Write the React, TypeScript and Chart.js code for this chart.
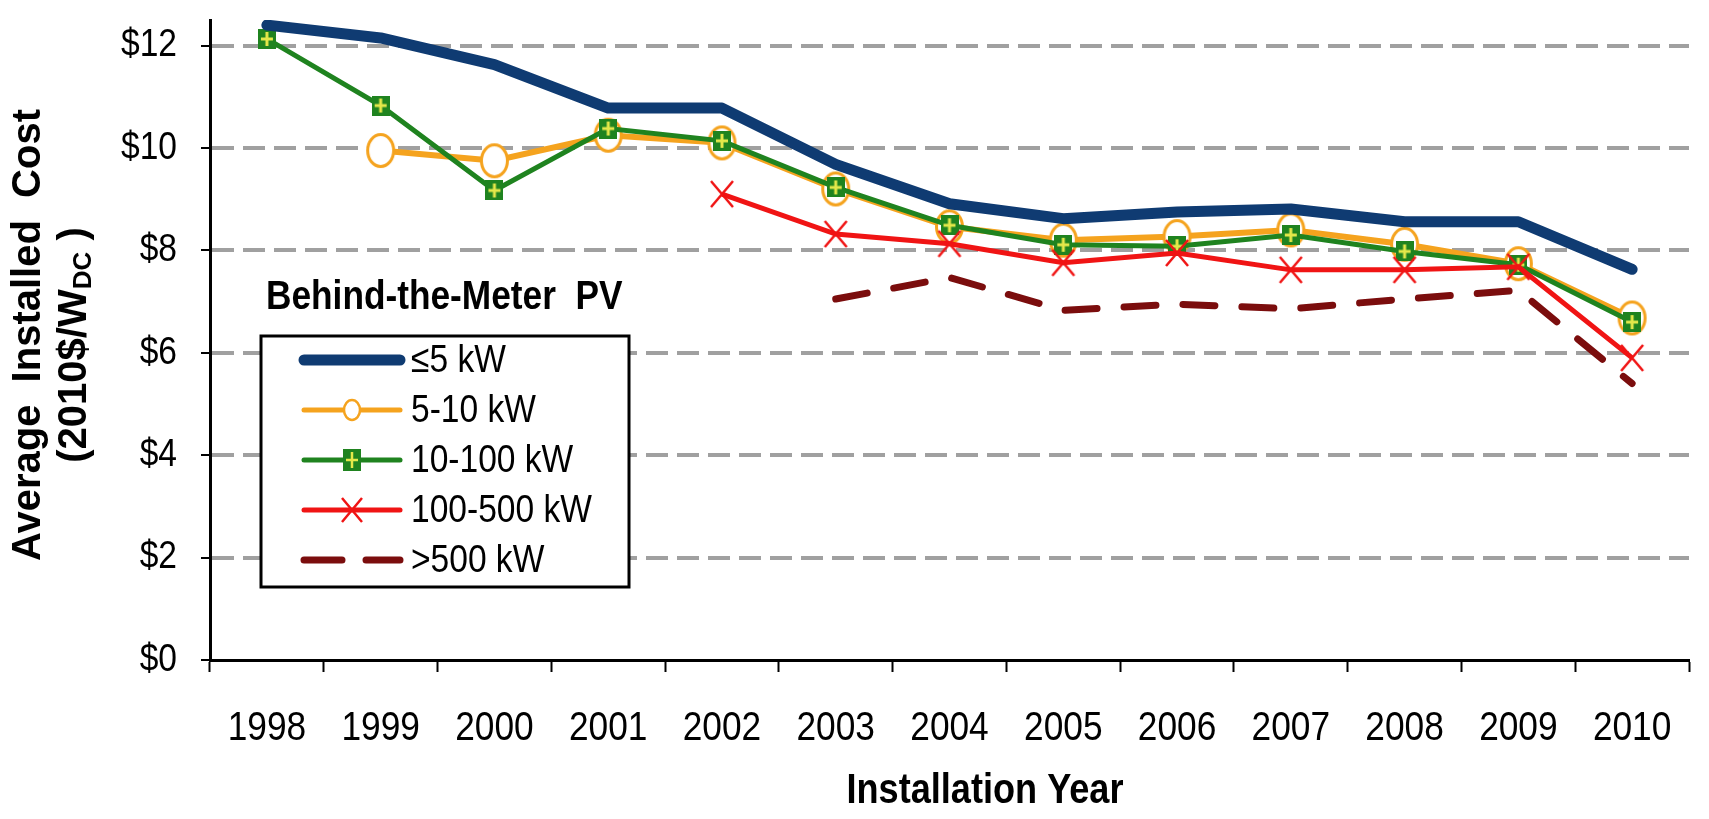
import React, { useEffect, useRef } from "react";
import { Chart, registerables } from "chart.js";

Chart.register(...registerables);

// ---------- data ----------
const years = ["1998", "1999", "2000", "2001", "2002", "2003", "2004", "2005", "2006", "2007", "2008", "2009", "2010"];
const seriesLabels = ["\u22645 kW", "5-10 kW", "10-100 kW", "100-500 kW", ">500 kW"];
const kwUpTo5 = [12.4, 12.15, 11.63, 10.78, 10.78, 9.68, 8.91, 8.62, 8.75, 8.81, 8.56, 8.56, 7.63];
const kw5to10 = [null, 9.95, 9.75, 10.25, 10.1, 9.2, 8.46, 8.2, 8.27, 8.4, 8.12, 7.74, 6.68];
const kw10to100 = [12.13, 10.83, 9.17, 10.38, 10.14, 9.23, 8.49, 8.11, 8.08, 8.3, 7.98, 7.72, 6.6];
const kw100to500 = [null, null, null, null, 9.1, 8.32, 8.13, 7.76, 7.95, 7.62, 7.62, 7.68, 5.9];
const kwOver500 = [null, null, null, null, null, 7.05, 7.47, 6.83, 6.95, 6.86, 7.05, 7.22, 5.4];
const yTickValues = [0, 2, 4, 6, 8, 10, 12];
const legendTitle = "Behind-the-Meter  PV";
const xTitle = "Installation Year";
const yTitleLine1 = "Average  Installed  Cost";
const yTitleLine2a = "(2010$/W";
const yTitleSub = "DC";
const yTitleLine2b = " )";

// ---------- styles ----------
const SANS = '"Liberation Sans", Arial, sans-serif';
const NARROW_SCALE = 0.86;
const C_NAVY = "#0F3B72";
const C_ORANGE = "#F5A31E";
const C_GREEN = "#1F831F";
const C_CROSS = "#E4E84A";
const C_RED = "#F01414";
const C_DARKRED = "#7B0D0D";
const C_GRID = "#A0A0A0";

function makeOrangeMarker(rx: number, ry: number, lw: number) {
  const c = document.createElement("canvas");
  c.width = Math.ceil(rx * 2 + lw + 2);
  c.height = Math.ceil(ry * 2 + lw + 2);
  const g = c.getContext("2d")!;
  g.beginPath();
  g.ellipse(c.width / 2, c.height / 2, rx, ry, 0, 0, Math.PI * 2);
  g.fillStyle = "#FFFFFF";
  g.fill();
  g.lineWidth = lw;
  g.strokeStyle = C_ORANGE;
  g.stroke();
  return c;
}

function makeGreenMarker(w: number, h: number) {
  const c = document.createElement("canvas");
  c.width = w;
  c.height = h;
  const g = c.getContext("2d")!;
  g.fillStyle = C_GREEN;
  g.fillRect(0, 0, w, h);
  g.strokeStyle = C_CROSS;
  g.lineWidth = 3;
  g.beginPath();
  g.moveTo(w / 2, 3);
  g.lineTo(w / 2, h - 3);
  g.moveTo(3, h / 2);
  g.lineTo(w - 3, h / 2);
  g.stroke();
  return c;
}

function makeRedX(w: number, h: number) {
  const c = document.createElement("canvas");
  c.width = w;
  c.height = h;
  const g = c.getContext("2d")!;
  g.strokeStyle = C_RED;
  g.lineWidth = 2.5;
  g.beginPath();
  g.moveTo(2, 2);
  g.lineTo(w - 2, h - 2);
  g.moveTo(w - 2, 2);
  g.lineTo(2, h - 2);
  g.stroke();
  return c;
}

function drawNarrow(
  ctx: CanvasRenderingContext2D,
  text: string,
  x: number,
  y: number,
  font: string,
  align: CanvasTextAlign
) {
  ctx.save();
  ctx.fillStyle = "#000";
  ctx.font = font;
  ctx.textBaseline = "middle";
  ctx.textAlign = align;
  ctx.translate(x, y);
  ctx.scale(NARROW_SCALE, 1);
  ctx.fillText(text, 0, 0);
  ctx.restore();
}

const textPlugin = {
  id: "customText",
  afterDraw(chart: any) {
    const ctx = chart.ctx as CanvasRenderingContext2D;

    // tick labels, positioned by the chart's own scales
    const xs = chart.scales.x;
    xs.ticks.forEach((t: any, i: number) => {
      drawNarrow(ctx, String(xs.getLabelForValue(t.value)), xs.getPixelForTick(i), 729, `41px ${SANS}`, "center");
    });
    const ys = chart.scales.y;
    ys.ticks.forEach((t: any) => {
      drawNarrow(ctx, "$" + t.value, 177, ys.getPixelForValue(t.value), `39px ${SANS}`, "right");
    });

    // Y title line 1
    ctx.save();
    ctx.fillStyle = "#000";
    ctx.textBaseline = "middle";
    ctx.textAlign = "center";
    ctx.translate(29, 335);
    ctx.rotate(-Math.PI / 2);
    ctx.font = `bold 40px ${SANS}`;
    ctx.fillText(yTitleLine1, 0, 0);
    ctx.restore();
    // Y title line 2 with subscript
    ctx.save();
    ctx.fillStyle = "#000";
    ctx.textBaseline = "middle";
    ctx.textAlign = "left";
    ctx.translate(75, 345);
    ctx.rotate(-Math.PI / 2);
    const big = `bold 40px ${SANS}`;
    const small = `bold 26px ${SANS}`;
    ctx.font = big;
    const w1 = ctx.measureText(yTitleLine2a).width;
    const w3 = ctx.measureText(yTitleLine2b).width;
    ctx.font = small;
    const w2 = ctx.measureText(yTitleSub).width;
    let x = -(w1 + w2 + w3) / 2;
    ctx.font = big;
    ctx.fillText(yTitleLine2a, x, 0);
    x += w1;
    ctx.font = small;
    ctx.fillText(yTitleSub, x, 9);
    x += w2;
    ctx.font = big;
    ctx.fillText(yTitleLine2b, x, 0);
    ctx.restore();

    // X title
    drawNarrow(ctx, xTitle, 985, 791, `bold 42px ${SANS}`, "center");

    // Legend
    const ds = chart.data.datasets;
    ctx.save();
    drawNarrow(ctx, legendTitle, 266, 298, `bold 41px ${SANS}`, "left");
    const bx = 261, by = 336, bw = 368, bh = 251;
    ctx.fillStyle = "#FFFFFF";
    ctx.fillRect(bx, by, bw, bh);
    ctx.lineWidth = 3;
    ctx.strokeStyle = "#000";
    ctx.strokeRect(bx, by, bw, bh);
    const rowY = [360, 410, 460, 510, 560];
    const x0 = 304, x1 = 400, xm = 352;
    ds.forEach((d: any, i: number) => {
      const y = rowY[i];
      ctx.save();
      ctx.strokeStyle = d.borderColor;
      ctx.lineCap = "round";
      if (i === 0) ctx.lineWidth = 11;
      else if (i === 4) ctx.lineWidth = 7;
      else ctx.lineWidth = 5;
      if (i === 4) {
        ctx.beginPath();
        ctx.moveTo(x0, y);
        ctx.lineTo(x0 + 38, y);
        ctx.moveTo(x1 - 34, y);
        ctx.lineTo(x1, y);
        ctx.stroke();
      } else {
        ctx.beginPath();
        ctx.moveTo(x0, y);
        ctx.lineTo(x1, y);
        ctx.stroke();
      }
      if (i === 1) {
        ctx.beginPath();
        ctx.ellipse(xm, y, 8, 10, 0, 0, Math.PI * 2);
        ctx.fillStyle = "#fff";
        ctx.fill();
        ctx.lineWidth = 2.5;
        ctx.strokeStyle = C_ORANGE;
        ctx.stroke();
      } else if (i === 2) {
        ctx.fillStyle = C_GREEN;
        ctx.fillRect(xm - 9, y - 11, 18, 22);
        ctx.strokeStyle = C_CROSS;
        ctx.lineWidth = 2.5;
        ctx.lineCap = "butt";
        ctx.beginPath();
        ctx.moveTo(xm, y - 8);
        ctx.lineTo(xm, y + 8);
        ctx.moveTo(xm - 6, y);
        ctx.lineTo(xm + 6, y);
        ctx.stroke();
      } else if (i === 3) {
        ctx.strokeStyle = C_RED;
        ctx.lineWidth = 2.5;
        ctx.lineCap = "butt";
        ctx.beginPath();
        ctx.moveTo(xm - 10, y - 12);
        ctx.lineTo(xm + 10, y + 12);
        ctx.moveTo(xm + 10, y - 12);
        ctx.lineTo(xm - 10, y + 12);
        ctx.stroke();
      }
      ctx.restore();
      drawNarrow(ctx, d.label, 411, y + 1, `39px ${SANS}`, "left");
    });
    ctx.restore();
  },
};

export default function App() {
  const ref = useRef<HTMLCanvasElement | null>(null);
  useEffect(() => {
    if (!ref.current) return;
    const orangeImg = makeOrangeMarker(13, 16, 3);
    const greenImg = makeGreenMarker(18, 20);
    const redImg = makeRedX(26, 30);
    const chart = new Chart(ref.current, {
      type: "line",
      data: {
        labels: years,
        datasets: [
          {
            label: seriesLabels[0],
            data: kwUpTo5,
            borderColor: C_NAVY,
            backgroundColor: C_NAVY,
            borderWidth: 11,
            borderCapStyle: "round",
            borderJoinStyle: "round",
            pointRadius: 0,
            order: 0,
          },
          {
            label: seriesLabels[1],
            data: kw5to10,
            borderColor: C_ORANGE,
            backgroundColor: "#fff",
            borderWidth: 6,
            pointStyle: orangeImg,
            pointRadius: 14,
            order: 3,
          },
          {
            label: seriesLabels[2],
            data: kw10to100,
            borderColor: C_GREEN,
            backgroundColor: C_GREEN,
            borderWidth: 5,
            pointStyle: greenImg,
            pointRadius: 9,
            order: 2,
          },
          {
            label: seriesLabels[3],
            data: kw100to500,
            borderColor: C_RED,
            backgroundColor: C_RED,
            borderWidth: 5,
            pointStyle: redImg,
            pointRadius: 13,
            order: 1,
          },
          {
            label: seriesLabels[4],
            data: kwOver500,
            borderColor: C_DARKRED,
            backgroundColor: C_DARKRED,
            borderWidth: 7,
            borderDash: [32, 27],
            borderCapStyle: "round",
            pointRadius: 0,
            order: 4,
          },
        ] as any,
      },
      options: {
        responsive: false,
        animation: false,
        devicePixelRatio: 1,
        layout: { padding: { left: 0, right: 2, top: 10, bottom: 0 } },
        plugins: {
          legend: { display: false },
          tooltip: { enabled: false },
          title: { display: false },
        },
        elements: { line: { tension: 0 } },
        scales: {
          x: {
            type: "category",
            offset: true,
            grid: {
              display: true,
              drawOnChartArea: false,
              drawTicks: true,
              tickLength: 12,
              tickColor: "#000",
              tickWidth: 2,
              tickBorderDash: [],
              offset: true,
            },
            border: { display: true, color: "#000", width: 3 },
            ticks: { display: false, autoSkip: false, maxRotation: 0 },
            afterFit: (s: any) => {
              s.height = 159;
            },
          },
          y: {
            min: 0,
            max: 12.5,
            afterBuildTicks: (s: any) => {
              s.ticks = yTickValues.map((v) => ({ value: v }));
            },
            grid: {
              color: (c: any) => (c.tick && c.tick.value === 0 ? "rgba(0,0,0,0)" : C_GRID),
              lineWidth: 4,
              drawTicks: true,
              tickLength: 9,
              tickColor: "#000",
              tickWidth: 2,
              tickBorderDash: [],
            },
            border: { display: true, color: "#000", width: 3, dash: [22, 9] },
            ticks: { display: false },
            afterFit: (s: any) => {
              s.width = 210;
            },
          },
        },
      } as any,
      plugins: [textPlugin],
    });
    return () => chart.destroy();
  }, []);
  return (
    <div style={{ position: "absolute", left: 0, top: 0, width: 1709, height: 819, background: "#fff" }}>
      <canvas ref={ref} width={1709} height={819} style={{ display: "block" }} />
    </div>
  );
}
